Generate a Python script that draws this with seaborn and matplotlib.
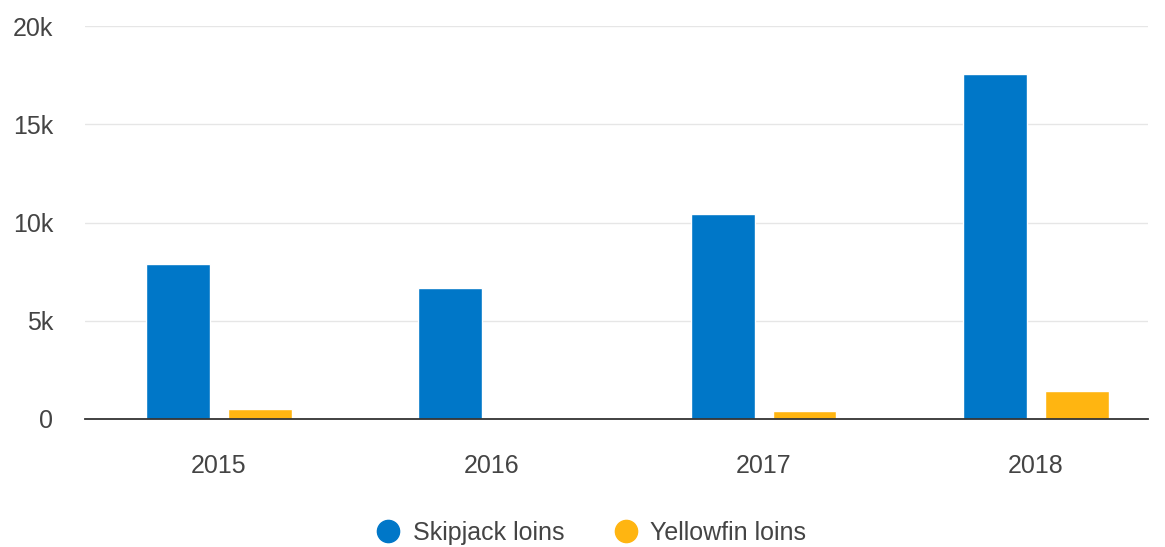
import matplotlib
matplotlib.use("Agg")
import matplotlib.pyplot as plt
from matplotlib.lines import Line2D
import seaborn as sns
import pandas as pd

years = ["2015", "2016", "2017", "2018"]
skipjack = [7880, 6650, 10410, 17550]
yellowfin = [510, 20, 410, 1440]
series_names = ["Skipjack loins", "Yellowfin loins"]
colors = ["#0077c8", "#ffb511"]
y_ticks = [0, 5000, 10000, 15000, 20000]
y_labels = ["0", "5k", "10k", "15k", "20k"]

df = pd.DataFrame({
    "Year": years * 2,
    "Value": skipjack + yellowfin,
    "Series": [series_names[0]] * 4 + [series_names[1]] * 4,
})

sns.set_theme(style="white")
plt.rcParams["font.family"] = ["Liberation Sans", "DejaVu Sans"]

W, H = 1165, 547
fig = plt.figure(figsize=(W / 100, H / 100), dpi=100)
ax = fig.add_axes([85 / W, (H - 419) / H, (1148 - 85) / W, (419 - 26) / H])

sns.barplot(data=df, x="Year", y="Value", hue="Series", palette=colors,
            width=0.602, gap=0.22, ax=ax, legend=False, saturation=1)

ax.set_xlim(-0.492, 3.412)
ax.set_ylim(0, 20000)
ax.set_yticks(y_ticks)
ax.set_yticklabels(y_labels)
ax.set_xlabel("")
ax.set_ylabel("")
ax.grid(axis="y", color="#e6e6e6", linewidth=1)
ax.set_axisbelow(True)
for s in ["left", "right", "top"]:
    ax.spines[s].set_visible(False)
ax.spines["bottom"].set_color("#333333")
ax.spines["bottom"].set_linewidth(1.3)
ax.tick_params(axis="y", length=0, pad=23, labelsize=18, labelcolor="#444444")
ax.tick_params(axis="x", length=0, pad=25, labelsize=18, labelcolor="#444444")

handles = [Line2D([], [], marker="o", linestyle="", markersize=16,
                  markerfacecolor=c, markeredgecolor=c) for c in colors]
fig.legend(handles, series_names, loc="center", bbox_to_anchor=(588.5 / W, (H - 533) / H),
           ncol=2, frameon=False, fontsize=18, handlelength=1.4, handletextpad=0.3,
           columnspacing=1.74, labelcolor="#444444")

fig.savefig("out.png", dpi=100)
